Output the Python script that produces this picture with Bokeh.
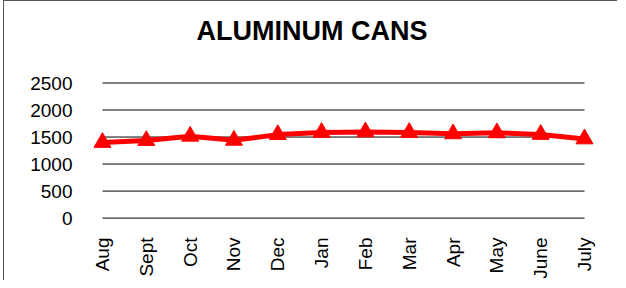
import math
from bokeh.plotting import figure
from bokeh.models import Range1d, FixedTicker, Title
from bokeh.embed import file_html
from bokeh.resources import INLINE

months = ["Aug", "Sept", "Oct", "Nov", "Dec", "Jan", "Feb", "Mar", "Apr", "May", "June", "July"]
cans = [1400, 1435, 1515, 1440, 1545, 1585, 1595, 1585, 1560, 1578, 1548, 1465]
y_ticks = [0, 500, 1000, 1500, 2000, 2500]
title_text = "ALUMINUM CANS"

xs = list(range(len(months)))

p = figure(width=614, height=280, output_backend="svg", toolbar_location=None,
           x_range=Range1d(-0.342, len(months) - 1 + 0.342), y_range=Range1d(-100, 2750),
           min_border_left=83, min_border_right=19, min_border_top=68, min_border_bottom=58)

# spacer between frame and title (empty text line), then the title above it
p.add_layout(Title(text=" ", text_font="Liberation Sans", text_font_size="15px", standoff=0), "above")
p.add_layout(Title(text=title_text, text_font="Liberation Sans", text_font_size="27px",
                   text_font_style="bold", align="left", offset=109, standoff=10,
                   text_color="black"), "above")

p.outline_line_color = None
p.background_fill_color = "white"
p.border_fill_color = "white"
p.styles = {"border-left": "1px solid #555555", "border-top": "1px solid #555555",
            "margin-left": "3px"}

# gridlines drawn from tick values, spanning first to last category
p.xgrid.visible = False
p.ygrid.visible = False
p.segment(x0=[xs[0]] * len(y_ticks), x1=[xs[-1]] * len(y_ticks), y0=y_ticks, y1=y_ticks,
          line_color="black", line_width=1)

p.line(xs, cans, line_color="#ff0000", line_width=5)
p.scatter(xs, cans, marker="triangle", size=17, fill_color="#ff0000", line_color="#ff0000")

for ax in (p.xaxis[0], p.yaxis[0]):
    ax.axis_line_color = None
    ax.major_tick_line_color = None
    ax.minor_tick_line_color = None
    ax.major_label_text_font = "Liberation Sans"
    ax.major_label_text_font_size = "19px"
    ax.major_label_text_color = "black"

p.yaxis.ticker = FixedTicker(ticks=y_ticks)
p.yaxis.major_label_standoff = 9
p.xaxis.ticker = FixedTicker(ticks=xs)
p.xaxis.major_label_overrides = {i: m for i, m in enumerate(months)}
p.xaxis.major_label_orientation = math.pi / 2
p.xaxis.major_label_standoff = 8

open("out.html", "w").write(file_html(p, INLINE))
